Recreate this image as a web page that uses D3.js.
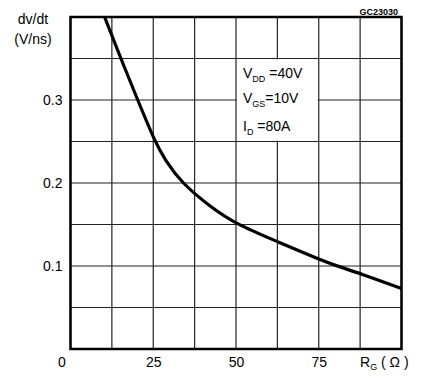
<!DOCTYPE html>
<html>
<head>
<meta charset="utf-8">
<script src="https://cdn.jsdelivr.net/npm/d3@7"></script>
<style>
html,body{margin:0;padding:0;background:#fff;}
svg{display:block;font-family:"Liberation Sans",Arial,sans-serif;}
</style>
</head>
<body>
<svg id="chart" width="425" height="379"></svg>
<script>
// Data
const rg = [10.3, 15.2, 20.3, 25.5, 28.5, 33.6, 42, 50.2, 62.8, 75, 80.5, 87.5, 100];
const dvdt = [0.40, 0.35, 0.30, 0.25, 0.228, 0.200, 0.172, 0.150, 0.129, 0.108, 0.100, 0.091, 0.073];
const xTicks = [0, 25, 50, 75];
const yTicks = [0.1, 0.2, 0.3];
const xGrid = [0, 12.5, 25, 37.5, 50, 62.5, 75, 87.5, 100];
const yGrid = [0, 0.05, 0.1, 0.15, 0.2, 0.25, 0.3, 0.35, 0.4];

const svg = d3.select("#chart");
const x = d3.scaleLinear().domain([0, 100]).range([70.5, 401.5]);
const y = d3.scaleLinear().domain([0, 0.4]).range([349, 17]);

// grid
svg.append("g").selectAll("line").data(xGrid).join("line")
  .attr("x1", d => x(d)).attr("x2", d => x(d))
  .attr("y1", y(0)).attr("y2", y(0.4))
  .attr("stroke", "#222").attr("stroke-width", 1.2);
svg.append("g").selectAll("line").data(yGrid).join("line")
  .attr("x1", x(0)).attr("x2", x(100))
  .attr("y1", d => y(d)).attr("y2", d => y(d))
  .attr("stroke", "#222").attr("stroke-width", 1.2);

// annotation box (white, covers inner grid)
svg.append("rect")
  .attr("x", x(50) + 1).attr("y", y(0.35) + 1)
  .attr("width", x(75) - x(50) - 2).attr("height", y(0.25) - y(0.35) - 2)
  .attr("fill", "#fff");

// frame
svg.append("rect")
  .attr("x", x(0)).attr("y", y(0.4))
  .attr("width", x(100) - x(0)).attr("height", y(0) - y(0.4))
  .attr("fill", "none").attr("stroke", "#000").attr("stroke-width", 2.5);

// curve
const pts = rg.map((r, i) => [r, dvdt[i]]);
svg.append("path").datum(pts)
  .attr("d", d3.line().x(d => x(d[0])).y(d => y(d[1])).curve(d3.curveBasis))
  .attr("fill", "none").attr("stroke", "#000").attr("stroke-width", 3.2)
  .attr("stroke-linejoin", "round");

// axes labels
const xAxis = d3.axisBottom(x).tickValues(xTicks).tickSize(0).tickPadding(0).tickFormat(d3.format("d"));
const gx = svg.append("g").attr("transform", `translate(0,${y(0)})`).call(xAxis);
gx.select(".domain").remove();
gx.selectAll("text").attr("font-size", 14).attr("font-family", "Liberation Sans, Arial, sans-serif")
  .attr("fill", "#000").attr("dy", null).attr("y", 18)
  .attr("dx", d => d === 0 ? -9 : 0);

const yAxis = d3.axisLeft(y).tickValues(yTicks).tickSize(0).tickPadding(8).tickFormat(d3.format(".1f"));
const gy = svg.append("g").attr("transform", `translate(${x(0)},0)`).call(yAxis);
gy.select(".domain").remove();
gy.selectAll("text").attr("font-size", 14).attr("font-family", "Liberation Sans, Arial, sans-serif").attr("fill", "#000");

// y title
svg.append("text").attr("x", 33).attr("y", 24).attr("text-anchor", "middle")
  .attr("font-size", 14).text("dv/dt");
svg.append("text").attr("x", 33).attr("y", 44).attr("text-anchor", "middle")
  .attr("font-size", 14).text("(V/ns)");

// x title
const xt = svg.append("text").attr("x", 360).attr("y", 367).attr("font-size", 14);
xt.append("tspan").text("R");
xt.append("tspan").attr("font-size", 9).attr("dy", 3).text("G");
xt.append("tspan").attr("dy", -3).text(" ( Ω )");

// code
svg.append("text").attr("x", 398).attr("y", 15).attr("text-anchor", "end")
  .attr("font-size", 9).attr("font-weight", "bold").text("GC23030");

// annotations
function ann(yb, main, sub, rest) {
  const t = svg.append("text").attr("x", 243).attr("y", yb).attr("font-size", 14);
  t.append("tspan").text(main);
  t.append("tspan").attr("font-size", 9).attr("dy", 4).text(sub);
  t.append("tspan").attr("dy", -4).text(rest);
}
ann(78, "V", "DD", " =40V");
ann(103, "V", "GS", "=10V");
ann(131, "I", "D", " =80A");
</script>
</body>
</html>
